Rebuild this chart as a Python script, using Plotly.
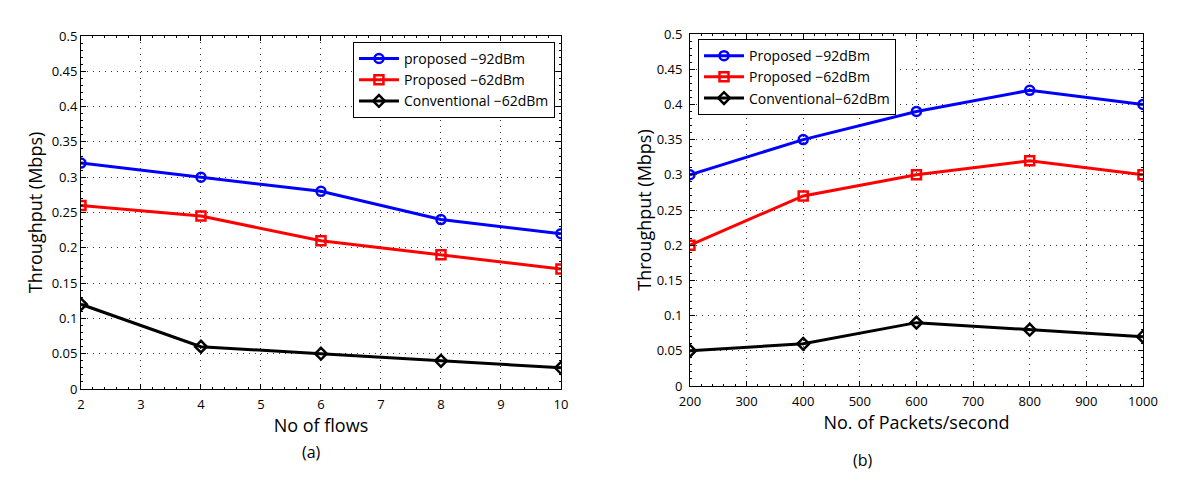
import plotly.graph_objects as go

# Panel (a)
flows = [2, 4, 6, 8, 10]
a_prop92 = [0.32, 0.30, 0.28, 0.24, 0.22]
a_prop62 = [0.26, 0.245, 0.21, 0.19, 0.17]
a_conv62 = [0.12, 0.06, 0.05, 0.04, 0.03]
a_names = ["proposed \u221292dBm", "Proposed \u221262dBm", "Conventional \u221262dBm"]

# Panel (b)
pps = [200, 400, 600, 800, 1000]
b_prop92 = [0.30, 0.35, 0.39, 0.42, 0.40]
b_prop62 = [0.20, 0.27, 0.30, 0.32, 0.30]
b_conv62 = [0.05, 0.06, 0.09, 0.08, 0.07]
b_names = ["Proposed \u221292dBm", "Proposed \u221262dBm", "Conventional\u221262dBm"]

y_ticks = [0, 0.05, 0.1, 0.15, 0.2, 0.25, 0.3, 0.35, 0.4, 0.45, 0.5]
y_tick_text = ["0", "0.05", "0.1", "0.15", "0.2", "0.25", "0.3", "0.35", "0.4", "0.45", "0.5"]

colors = ["#0000ff", "#ff0000", "#000000"]
symbols = ["circle-open", "square-open", "diamond-open"]

FONT = "Open Sans"
fig = go.Figure()

for ys, name, c, s in zip([a_prop92, a_prop62, a_conv62], a_names, colors, symbols):
    fig.add_trace(go.Scatter(x=flows, y=ys, name=name, mode="lines+markers",
                             line=dict(color=c, width=3),
                             marker=dict(symbol=s, size=9, color=c, line=dict(color=c, width=2.5)),
                             xaxis="x", yaxis="y", legend="legend"))
for ys, name, c, s in zip([b_prop92, b_prop62, b_conv62], b_names, colors, symbols):
    fig.add_trace(go.Scatter(x=pps, y=ys, name=name, mode="lines+markers",
                             line=dict(color=c, width=3),
                             marker=dict(symbol=s, size=9, color=c, line=dict(color=c, width=2.5)),
                             xaxis="x2", yaxis="y2", legend="legend2"))

axis_common = dict(showline=True, linecolor="black", linewidth=1, mirror="ticks",
                   ticks="inside", ticklen=5, tickcolor="black", automargin=False,
                   showgrid=True, gridcolor="#333333", griddash="1px,5px", gridwidth=1,
                   zeroline=False, tickfont=dict(family=FONT, size=13, color="black"))

def minor(dt):
    return dict(ticks="inside", ticklen=2, tickcolor="black", dtick=dt, showgrid=False)

# the page body has an 8px default margin; domains compensate for it
fig.update_layout(
    width=1200, height=485,
    margin=dict(l=0, r=0, t=0, b=0),
    paper_bgcolor="white", plot_bgcolor="white",
    font=dict(family=FONT, color="black"),
    xaxis=dict(domain=[0.0608, 0.4608], range=[2, 10], dtick=1, ticklabelstandoff=3,
               title=dict(text="No of flows", font=dict(family=FONT, size=18), standoff=0),
               anchor="y", minor=minor(0.2), **axis_common),
    yaxis=dict(domain=[0.2144, 0.9423], range=[0, 0.5], tickvals=y_ticks, ticktext=y_tick_text,
               title=dict(text="Throughput (Mbps)", font=dict(family=FONT, size=18), standoff=4),
               anchor="x", minor=minor(0.01), **axis_common),
    xaxis2=dict(domain=[0.5683, 0.9458], range=[200, 1000], dtick=100, ticklabelstandoff=3,
                title=dict(text="No. of Packets/second", font=dict(family=FONT, size=18), standoff=0),
                anchor="y2", minor=minor(20), **axis_common),
    yaxis2=dict(domain=[0.2206, 0.9464], range=[0, 0.5], tickvals=y_ticks, ticktext=y_tick_text,
                ticklabelstandoff=4,
                title=dict(text="Throughput (Mbps)", font=dict(family=FONT, size=18), standoff=0),
                anchor="x2", minor=minor(0.01), **axis_common),
    legend=dict(x=0.4558, xanchor="right", y=0.93, yanchor="top",
                bgcolor="white", bordercolor="black", borderwidth=1,
                font=dict(family=FONT, size=14), tracegroupgap=0, itemwidth=40),
    legend2=dict(x=0.575, xanchor="left", y=0.936, yanchor="top",
                 bgcolor="white", bordercolor="black", borderwidth=1,
                 font=dict(family=FONT, size=14), tracegroupgap=0, itemwidth=40),
    annotations=[
        dict(text="(a)", x=0.2433, y=0.0577, xref="paper", yref="paper",
             showarrow=False, font=dict(family=FONT, size=16)),
        dict(text="(b)", x=0.7225, y=0.0412, xref="paper", yref="paper",
             showarrow=False, font=dict(family=FONT, size=16)),
    ],
)

fig.write_html("out.html")
